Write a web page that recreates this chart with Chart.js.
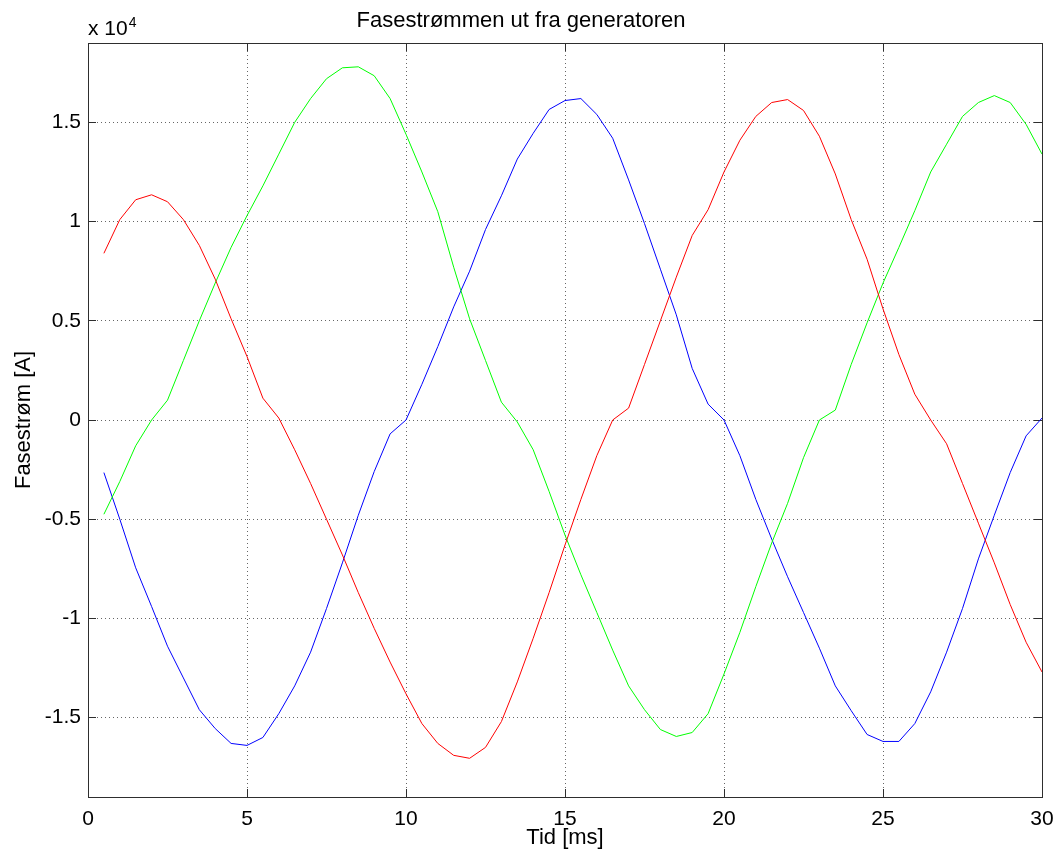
<!DOCTYPE html>
<html>
<head>
<meta charset="utf-8">
<title>Fasestrømmen ut fra generatoren</title>
<script src="https://cdn.jsdelivr.net/npm/chart.js@4.4.1/dist/chart.umd.min.js"></script>
<style>
  html, body { margin: 0; padding: 0; background: #ffffff; }
  canvas { display: block; background: #ffffff; }
</style>
</head>
<body>
<canvas id="chart" width="1055" height="854"></canvas>
<script>
// Sample times [ms]
const timeMs = [
  0.5, 1.0, 1.5, 2.0, 2.5, 3.0, 3.5, 4.0, 4.5, 5.0, 5.5, 6.0,
  6.5, 7.0, 7.5, 8.0, 8.5, 9.0, 9.5, 10.0, 10.5, 11.0, 11.5, 12.0,
  12.5, 13.0, 13.5, 14.0, 14.5, 15.0, 15.5, 16.0, 16.5, 17.0, 17.5, 18.0,
  18.5, 19.0, 19.5, 20.0, 20.5, 21.0, 21.5, 22.0, 22.5, 23.0, 23.5, 24.0,
  24.5, 25.0, 25.5, 26.0, 26.5, 27.0, 27.5, 28.0, 28.5, 29.0, 29.5, 30.0
];

// Phase currents, in units of 10^4 A
const phaseRed = [
  0.84, 1.01, 1.11, 1.135, 1.10, 1.01, 0.88, 0.71, 0.51, 0.32, 0.11, 0.01,
  -0.15, -0.32, -0.50, -0.68, -0.87, -1.05, -1.22, -1.38, -1.53, -1.63, -1.69, -1.705,
  -1.65, -1.52, -1.32, -1.10, -0.87, -0.63, -0.40, -0.18, 0.0, 0.06, 0.28, 0.50,
  0.72, 0.93, 1.06, 1.25, 1.41, 1.53, 1.60, 1.615, 1.56, 1.43, 1.24, 1.01,
  0.81, 0.56, 0.33, 0.13, 0.0, -0.12, -0.32, -0.52, -0.72, -0.93, -1.12, -1.27
];
const phaseGreen = [
  -0.475, -0.31, -0.13, 0.0, 0.10, 0.30, 0.50, 0.69, 0.87, 1.03, 1.18, 1.34,
  1.50, 1.62, 1.72, 1.775, 1.78, 1.735, 1.62, 1.44, 1.25, 1.05, 0.77, 0.51,
  0.30, 0.09, -0.01, -0.15, -0.36, -0.58, -0.78, -0.97, -1.16, -1.34, -1.46, -1.56,
  -1.595, -1.575, -1.48, -1.28, -1.07, -0.84, -0.62, -0.42, -0.19, 0.0, 0.05, 0.28,
  0.49, 0.69, 0.87, 1.055, 1.25, 1.39, 1.53, 1.60, 1.635, 1.60, 1.49, 1.34
];
const phaseBlue = [
  -0.265, -0.50, -0.745, -0.94, -1.14, -1.30, -1.46, -1.555, -1.63, -1.64, -1.60, -1.48,
  -1.34, -1.17, -0.95, -0.72, -0.48, -0.26, -0.07, 0.0, 0.18, 0.37, 0.57, 0.75,
  0.96, 1.13, 1.315, 1.445, 1.565, 1.61, 1.62, 1.54, 1.42, 1.21, 0.99, 0.76,
  0.53, 0.26, 0.08, 0.0, -0.18, -0.40, -0.60, -0.79, -0.97, -1.15, -1.34, -1.465,
  -1.585, -1.62, -1.62, -1.53, -1.37, -1.17, -0.95, -0.70, -0.48, -0.265, -0.08, 0.01
];

// Axis ticks
const xTickValues = [0, 5, 10, 15, 20, 25, 30];
const xTickLabels = ['0', '5', '10', '15', '20', '25', '30'];
const yTickValues = [-1.5, -1, -0.5, 0, 0.5, 1, 1.5];
const yTickLabels = ['-1.5', '-1', '-0.5', '0', '0.5', '1', '1.5'];

const FONT = '"Liberation Sans", Arial, Helvetica, sans-serif';
Chart.defaults.font.family = FONT;
Chart.defaults.color = '#000000';

const axisColor = '#2e2e2e';
const gridColor = 'rgba(0,0,0,0.6)';

const toPoints = values => timeMs.map((t, i) => ({ x: t, y: values[i] }));

const series = (label, values, color) => ({
  label,
  data: toPoints(values),
  borderColor: color,
  backgroundColor: color,
  borderWidth: 1,
  pointRadius: 0,
  tension: 0,
  fill: false
});

const setTicks = values => scale => { scale.ticks = values.map(v => ({ value: v })); };

// Fixed axis box sizes, without the extra edge padding reserved for end labels
const fixHorizontal = h => s => { s.height = h; s.paddingLeft = 0; s.paddingRight = 0; };
const fixVertical = w => s => { s.width = w; s.paddingTop = 0; s.paddingBottom = 0; };

// Shared grid / inward tick-mark styling
const gridOpts = (onArea) => ({
  display: true,
  drawOnChartArea: onArea,
  drawTicks: true,
  color: gridColor,
  lineWidth: 1,
  tickLength: -8,
  tickColor: axisColor,
  tickWidth: 1,
  tickBorderDash: []
});
const borderOpts = { display: true, color: axisColor, width: 1, dash: [1, 3] };

// "x 10^4" multiplier above the y axis
const multiplierLabel = {
  id: 'multiplierLabel',
  afterDraw(chart) {
    const { ctx, chartArea } = chart;
    ctx.save();
    ctx.fillStyle = '#000000';
    ctx.textAlign = 'left';
    ctx.textBaseline = 'alphabetic';
    ctx.font = '21px ' + FONT;
    ctx.fillText('x 10', chartArea.left, 35);
    const w = ctx.measureText('x 10').width;
    ctx.font = '14px ' + FONT;
    ctx.fillText('4', chartArea.left + w + 1, 27);
    ctx.restore();
  }
};

new Chart(document.getElementById('chart'), {
  type: 'line',
  data: {
    datasets: [
      series('Fase R', phaseRed, '#ff0000'),
      series('Fase S', phaseGreen, '#00ff00'),
      series('Fase T', phaseBlue, '#0000ff')
    ]
  },
  options: {
    responsive: false,
    animation: false,
    devicePixelRatio: 1,
    layout: { padding: { left: 0, right: 13, top: 0, bottom: 0 } },
    plugins: {
      legend: { display: false },
      tooltip: { enabled: false },
      title: {
        display: true,
        text: 'Fasestrømmen ut fra generatoren',
        color: '#000000',
        font: { size: 22, weight: 'normal', lineHeight: 1 },
        padding: { top: 10, bottom: 11 }
      }
    },
    scales: {
      x: {
        type: 'linear',
        position: 'bottom',
        min: 0,
        max: 30,
        afterBuildTicks: setTicks(xTickValues),
        afterFit: fixHorizontal(57),
        ticks: {
          autoSkip: false,
          maxRotation: 0,
          padding: 18,
          color: '#000000',
          font: { size: 21 },
          callback: (v, i) => xTickLabels[i]
        },
        grid: gridOpts(true),
        border: borderOpts,
        title: {
          display: true,
          text: 'Tid [ms]',
          color: '#000000',
          font: { size: 22, lineHeight: 1 },
          padding: { top: 0, bottom: 5 }
        }
      },
      xTop: {
        type: 'linear',
        position: 'top',
        min: 0,
        max: 30,
        afterBuildTicks: setTicks(xTickValues),
        afterFit: fixHorizontal(0),
        ticks: { display: false },
        grid: gridOpts(false),
        border: borderOpts
      },
      y: {
        type: 'linear',
        position: 'left',
        min: -1.9,
        max: 1.9,
        afterBuildTicks: setTicks(yTickValues),
        afterFit: fixVertical(88),
        ticks: {
          padding: 15,
          color: '#000000',
          font: { size: 21 },
          callback: (v, i) => yTickLabels[i]
        },
        grid: gridOpts(true),
        border: borderOpts,
        title: {
          display: true,
          text: 'Fasestrøm [A]',
          color: '#000000',
          font: { size: 22, lineHeight: 1 },
          padding: { top: 13, bottom: 0 }
        }
      },
      yRight: {
        type: 'linear',
        position: 'right',
        min: -1.9,
        max: 1.9,
        afterBuildTicks: setTicks(yTickValues),
        afterFit: fixVertical(0),
        ticks: { display: false },
        grid: gridOpts(false),
        border: borderOpts
      }
    }
  },
  plugins: [multiplierLabel]
});
</script>
</body>
</html>
